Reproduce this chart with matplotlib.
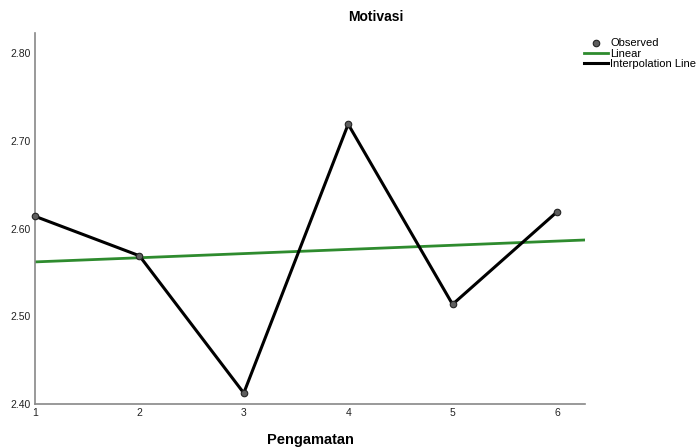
import matplotlib.pyplot as plt
import numpy as np

plt.rcParams['font.family'] = ['Liberation Sans', 'DejaVu Sans']

# observations
pengamatan = [1, 2, 3, 4, 5, 6]
motivasi = [2.614, 2.569, 2.4125, 2.719, 2.5136, 2.619]

# linear fit line (ends)
fit_x = [1, 6.27]
fit_y = [2.562, 2.587]

yticks = [2.40, 2.50, 2.60, 2.70, 2.80]

fig = plt.figure(figsize=(6.99, 4.47), dpi=100)
ax = fig.add_axes([0.0501, 0.0962, 0.787, 0.830])

ax.plot(fit_x, fit_y, color='#2e8b2e', lw=2, label='Linear', zorder=2)
ax.plot(pengamatan, motivasi, color='black', lw=2.2, label='Interpolation Line', zorder=3)
ax.scatter(pengamatan, motivasi, s=22, color='#5e5e5e', edgecolors='#222222',
           linewidths=0.8, label='Observed', zorder=4, clip_on=False)

ax.set_xlim(1, 6.27)
ax.set_ylim(2.40, 2.823)
ax.set_xticks(pengamatan)
ax.set_yticks(yticks)
ax.set_yticklabels(['%.2f' % v for v in yticks])
ax.tick_params(length=0, labelsize=7.5, colors='#222222', pad=3)
for s in ['top', 'right']:
    ax.spines[s].set_visible(False)
for s in ['left', 'bottom']:
    ax.spines[s].set_color('#888888')
    ax.spines[s].set_linewidth(1.2)

fig.text(0.538, 0.962, 'Motivasi', ha='center', va='center', fontsize=10, fontweight='bold')
ax.set_xlabel('Pengamatan', fontsize=10.5, fontweight='bold', labelpad=11)

h, l = ax.get_legend_handles_labels()
order = [2, 0, 1]
ax.legend([h[i] for i in order], [l[i] for i in order], loc='upper left',
          bbox_to_anchor=(0.835, 0.915), bbox_transform=fig.transFigure,
          frameon=False, fontsize=8, handlelength=2.2, handletextpad=0.2,
          labelspacing=0.05, borderaxespad=0, borderpad=0)

fig.savefig('out.png', dpi=100)
